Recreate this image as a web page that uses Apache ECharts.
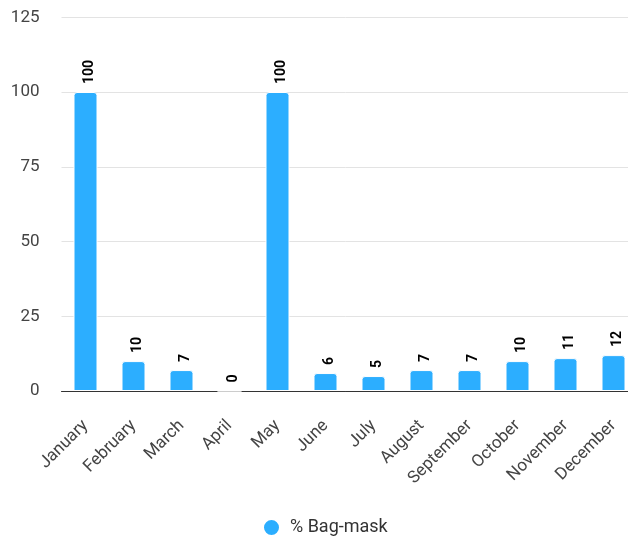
<!DOCTYPE html>
<html><head><meta charset="utf-8">
<script src="https://cdn.jsdelivr.net/npm/echarts@6/dist/echarts.min.js"></script>
<style>html,body{margin:0;padding:0;background:#fff}#c{width:628px;height:541px}</style>
</head><body><div id="c"></div>
<script>
const categories = ['January','February','March','April','May','June','July','August','September','October','November','December'];
const values = [100,10,7,0,100,6,5,7,7,10,11,12];
const seriesName = '% Bag-mask';
const yTicks = {min:0, max:125, interval:25};

const chart = echarts.init(document.getElementById('c'), null, {renderer:'canvas'});
chart.setOption({
  animation:false,
  textStyle:{fontFamily:'Roboto'},
  grid:{left:61.5, width:576, top:17.25, bottom:150, containLabel:false, outerBoundsMode:'none'},
  legend:{top:513, left:257, icon:'circle', itemWidth:17, itemHeight:17, itemGap:10,
    textStyle:{fontSize:18, color:'#333', fontFamily:'Roboto', padding:[0,0,0,5]}, data:[seriesName]},
  xAxis:{type:'category', data:categories,
    axisLine:{lineStyle:{color:'#333', width:1}},
    axisTick:{show:false},
    axisLabel:{rotate:45, interval:0, fontSize:17, color:'#444', margin:32, fontFamily:'Roboto'}},
  yAxis:{type:'value', min:yTicks.min, max:yTicks.max, interval:yTicks.interval,
    axisLine:{show:false}, axisTick:{show:false},
    splitLine:{lineStyle:{color:'#e3e3e3', width:1}},
    axisLabel:{fontSize:17, color:'#444', margin:22, fontFamily:'Roboto'}},
  series:[{name:seriesName, type:'bar', data:values, barWidth:'50%',
    itemStyle:{color:'#2caeff', borderRadius:[3,3,0,0], borderColor:'#fff', borderWidth:1},
    label:{show:true, position:'top', rotate:90, align:'left', verticalAlign:'middle', distance:8, offset:[0,4],
      fontSize:14, fontWeight:'bold', color:'#000', fontFamily:'Roboto'}}]
});
</script></body></html>
